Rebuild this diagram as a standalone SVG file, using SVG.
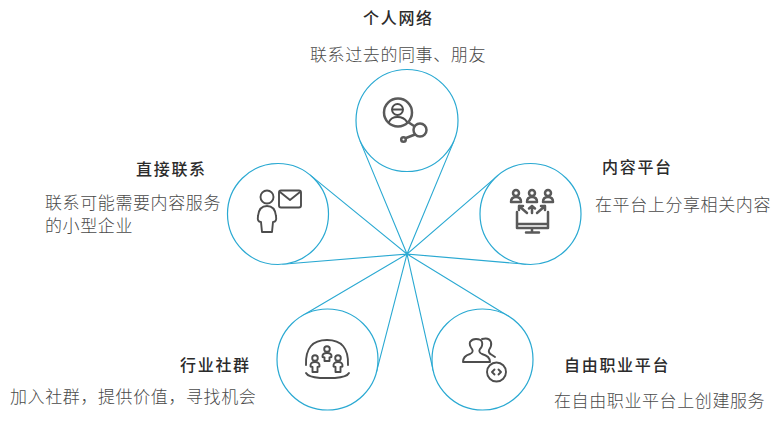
<svg xmlns="http://www.w3.org/2000/svg" width="781" height="426" viewBox="0 0 781 426">
<style>
text{font-family:"Noto Sans CJK SC","Liberation Sans",sans-serif;}
.t{font-size:16px;font-weight:500;fill:#2b2b2b;letter-spacing:1.7px;}
.s{font-size:17px;font-weight:300;fill:#4a4a4a;letter-spacing:0.6px;}
.c{fill:#fff;stroke:#2aa9d2;stroke-width:1.2;}
.l{stroke:#2aa9d2;stroke-width:1.1;fill:none;}
.i{fill:none;stroke:#4d4d4d;stroke-width:1.9;stroke-linecap:round;stroke-linejoin:round;}
.h{fill:none;stroke:#5a5a5a;stroke-width:2.5;stroke-linecap:round;stroke-linejoin:round;}
</style>
<g id="connectors">
<path class="l" d="M359.9 140.6L407 254L454.1 140.6M309.9 174.9L407 254L282.2 264.3M497.5 175.8L407 254L526.2 264.3M301.8 316L407 254L376.4 372.2M508.9 316.5L407 254L433.2 370.6"/>
</g>
<g id="node-top">
<circle class="c" cx="407" cy="120.500" r="51"/>
<circle class="h" cx="398" cy="112.500" r="14"/>
<circle class="i" cx="397.500" cy="109.500" r="5.500"/>
<path class="i" d="M392.500 109.500H402.500M389 122Q391 117 397.500 117Q404 117 407 122"/>
<path class="h" d="M408 122L414 126M406 138L415 134.500"/>
<circle class="h" cx="420" cy="130" r="6.500"/>
<circle class="h" cx="403.500" cy="139.500" r="2.300"/>
<text class="t" x="363" y="24">个人网络</text>
<text class="s" x="310" y="61">联系过去的同事、朋友</text>
</g>
<g id="node-left">
<circle class="c" cx="278" cy="214" r="50.500"/>
<circle class="i" cx="267" cy="197" r="6.500"/>
<path class="i" d="M262 232L261 222Q257 222 258 216Q259 206 267 206Q275 206 276 216Q277 222 273 222L272 232Z"/>
<rect class="i" x="279" y="190.500" width="22" height="17" rx="2"/>
<path class="i" d="M280 192L290 200L300 192"/>
<text class="t" x="136" y="175">直接联系</text>
<text class="s" x="45" y="209">联系可能需要内容服务</text>
<text class="s" x="45" y="232">的小型企业</text>
</g>
<g id="node-right">
<circle class="c" cx="530.500" cy="214" r="50.500"/>
<g class="h">
<circle cx="516" cy="193" r="3"/><circle cx="532" cy="193" r="3"/><circle cx="548" cy="193" r="3"/>
<path d="M511 202Q511 197 516 197Q521 197 521 202ZM527 202Q527 197 532 197Q537 197 537 202ZM543 202Q543 197 548 197Q553 197 553 202Z"/>
<path d="M532 213V206M529 208.500L532 206L535 208.500M527 213L519 206M519 210V206H523M537 213L545 206M541 206H545V210"/>
<path d="M517 212V228H548V212M517 224H548M532 228V232M526 232.500H539"/>
</g>
<text class="t" x="602" y="173">内容平台</text>
<text class="s" x="595" y="211">在平台上分享相关内容</text>
</g>
<g id="node-bottom-left">
<circle class="c" cx="327.500" cy="359.500" r="50.500"/>
<path class="i" d="M306 365Q305 340 327 340Q349 340 348 365"/>
<path class="i" d="M306 373Q308 377 320 378H335Q347 377 349 373"/>
<g class="i">
<circle cx="327" cy="349" r="2.800"/><path d="M324.500 361V357.500L322.500 357Q322 353 327 353Q332 353 331.500 357L329.500 357.500V361Z"/>
<circle cx="315" cy="358" r="2.800"/><path d="M312.500 372V367L310.500 366.500Q310 362 315 362Q320 362 319.500 366.500L317.500 367V372Z"/>
<circle cx="338" cy="358" r="2.800"/><path d="M335.500 372V367L333.500 366.500Q333 362 338 362Q343 362 342.500 366.500L340.500 367V372Z"/>
</g>
<text class="t" x="180" y="371">行业社群</text>
<text class="s" x="10" y="403">加入社群，提供价值，寻找机会</text>
</g>
<g id="node-bottom-right">
<circle class="c" cx="482.500" cy="359.500" r="50.500"/>
<path class="i" d="M463 362Q463 356 470 354Q474 352 472 349Q469 345 470 342Q472 339 476 339Q481 339 482 342Q483 346 480 349Q478 352 482 354Q490 356 490 362Z"/>
<path class="i" d="M482 339Q489 337 491 342Q492 346 489 350Q488 353 492 355L495 357"/>
<circle class="i" cx="496.500" cy="372" r="9.500"/>
<path class="i" d="M494.500 369.500L492 372L494.500 374.500M498.500 369.500L501 372L498.500 374.500"/>
<text class="t" x="564" y="371">自由职业平台</text>
<text class="s" x="554" y="407">在自由职业平台上创建服务</text>
</g>
</svg>
